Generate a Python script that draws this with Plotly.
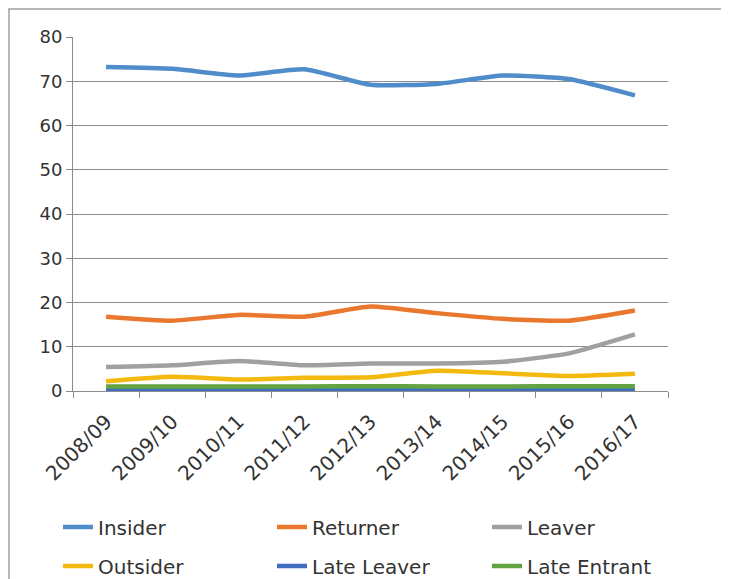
import plotly.graph_objects as go

categories = ["2008/09", "2009/10", "2010/11", "2011/12", "2012/13",
              "2013/14", "2014/15", "2015/16", "2016/17"]
insider = [73.2, 72.8, 71.3, 72.7, 69.2, 69.4, 71.3, 70.5, 66.8]
returner = [16.8, 15.9, 17.2, 16.8, 19.1, 17.6, 16.3, 15.9, 18.2]
leaver = [5.4, 5.8, 6.8, 5.8, 6.2, 6.2, 6.6, 8.5, 12.8]
outsider = [2.2, 3.2, 2.6, 3.0, 3.1, 4.6, 4.0, 3.4, 3.9]
late_leaver = [0.2, 0.2, 0.2, 0.2, 0.2, 0.2, 0.2, 0.2, 0.2]
late_entrant = [1.0, 1.0, 1.0, 1.0, 1.1, 1.0, 1.0, 1.1, 1.1]
y_ticks = [0, 10, 20, 30, 40, 50, 60, 70, 80]

series = [
    ("Insider", insider, "#4F8CC9"),
    ("Returner", returner, "#E9772E"),
    ("Leaver", leaver, "#A0A0A0"),
    ("Outsider", outsider, "#F4B90F"),
    ("Late Leaver", late_leaver, "#3F6DBF"),
    ("Late Entrant", late_entrant, "#62A342"),
]

# figure is drawn 8px in from the page edge (body margin)
# plot area in figure pixels: left 65, right 660, top 29, bottom 383
L, R, T, B = 65, 660, 29, 383
PW, PH = float(R - L), float(B - T)
legend_pos = [(50, 519), (264, 519), (479, 519), (50, 558), (264, 558), (479, 558)]

fig = go.Figure()
legend_layouts = {}
for i, (name, vals, col) in enumerate(series):
    lg = "legend" if i == 0 else f"legend{i+1}"
    fig.add_trace(go.Scatter(
        x=categories, y=vals, name=name, mode="lines", legend=lg,
        line=dict(color=col, width=4.5, shape="spline", smoothing=0.5),
    ))
    px, py = legend_pos[i]
    legend_layouts[lg] = dict(
        x=(px - L) / PW, y=(B - py) / PH, xanchor="left", yanchor="middle",
        orientation="v", bgcolor="rgba(0,0,0,0)",
        font=dict(family="DejaVu Sans", size=20, color="#333333"),
    )

fig.update_layout(
    width=721, height=571,
    margin=dict(l=L, r=721 - R, t=T, b=571 - B, autoexpand=False),
    paper_bgcolor="white", plot_bgcolor="white",
    font=dict(family="DejaVu Sans", size=17, color="#333333"),
    showlegend=True,
    xaxis=dict(type="category", range=[-0.5, len(categories) - 0.5],
               tickangle=-45, showgrid=False,
               ticks="outside", tickson="boundaries", ticklen=6,
               tickcolor="#8C8C8C", showline=True, linecolor="#8C8C8C",
               linewidth=1, automargin=False, ticklabelstandoff=10,
               tickfont=dict(family="DejaVu Sans", size=20, color="#333333")),
    yaxis=dict(range=[0, 80], tickvals=y_ticks, showgrid=True,
               gridcolor="#8C8C8C", gridwidth=1, ticks="outside", ticklen=6,
               tickcolor="#8C8C8C", showline=True, linecolor="#8C8C8C",
               zeroline=False, automargin=False,
               tickfont=dict(family="DejaVu Sans", size=18, color="#333333")),
    shapes=[dict(type="rect", xref="paper", yref="paper",
                 x0=(1 - L) / PW, x1=(717 - L) / PW, y0=-(600 - B) / PH, y1=(B - 1) / PH,
                 line=dict(color="#A0A0A0", width=1.5), fillcolor="rgba(0,0,0,0)",
                 layer="below")],
    **legend_layouts,
)

fig.write_html("out.html")
